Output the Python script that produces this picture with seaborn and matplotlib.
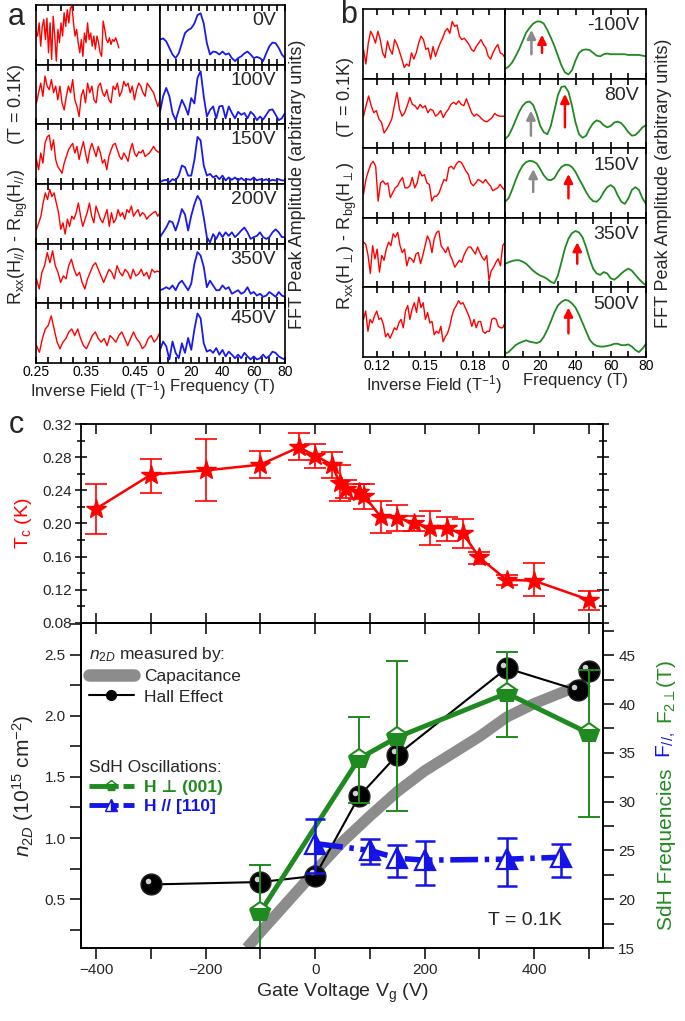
import matplotlib
matplotlib.use("Agg")
import matplotlib.pyplot as plt
import numpy as np
import seaborn as sns
from matplotlib.lines import Line2D
from matplotlib.ticker import MultipleLocator, FixedLocator
from matplotlib.transforms import ScaledTranslation

# ---------------- panel a: H parallel (trace heights in % of each row box) ----------------
A_GATES = ["0V", "100V", "150V", "200V", "350V", "450V"]
A_INV_RANGE = [(0.25, 0.417), (0.251, 0.5), (0.251, 0.5), (0.251, 0.5), (0.251, 0.5), (0.251, 0.5)]
A_TR_0 = [56, 48, 70, 31, 64, 76, 42, 78, 20, 70, 9, 81, 48, 6, 59, 37, 70, 48, 87, 64, 92, 70, 95, 98, 70,
          48, 59, 37, 20, 42, 14, 53, 37, 70, 42, 53, 31, 48, 26, 48, 37, 20, 14, 73, 59, 42, 37, 45, 34, 42,
          39, 45, 37, 28]
A_TR_1 = [36, 53, 69, 47, 81, 64, 58, 75, 53, 64, 41, 64, 36, 24, 47, 64, 53, 75, 41, 30, 13, 47, 58, 36, 69,
          53, 64, 41, 36, 64, 69, 53, 47, 58, 41, 36, 64, 58, 69, 47, 55, 72, 64, 69, 53, 64, 41, 58, 69, 64,
          53, 47, 69, 64, 58, 53, 41, 30, 41]
A_TR_2 = [41, 24, 52, 35, 68, 79, 82, 57, 74, 41, 29, 24, 18, 35, 46, 57, 63, 68, 52, 63, 41, 57, 71, 52, 35,
          57, 68, 57, 46, 63, 52, 35, 41, 24, 46, 57, 66, 68, 57, 46, 41, 52, 46, 38, 57, 68, 52, 46, 54, 52,
          57, 46, 49, 52, 57, 63, 57, 54, 52]
A_TR_3 = [24, 35, 46, 68, 85, 74, 91, 79, 85, 68, 52, 24, 35, 16, 41, 29, 46, 41, 52, 68, 46, 29, 41, 52, 68,
          46, 35, 63, 52, 41, 35, 46, 57, 29, 52, 35, 41, 57, 46, 52, 41, 57, 52, 63, 46, 52, 57, 46, 52, 49,
          41, 46, 49, 52, 54, 46, 52]
A_TR_4 = [41, 24, 52, 63, 85, 68, 88, 63, 52, 35, 46, 41, 63, 74, 57, 46, 52, 35, 24, 41, 52, 63, 68, 57, 46,
          35, 46, 57, 52, 41, 63, 52, 46, 57, 52, 41, 57, 46, 49, 57, 46, 52, 41, 57, 52, 54, 52]
A_TR_5 = [29, 18, 41, 57, 63, 79, 57, 35, 24, 35, 41, 52, 57, 46, 57, 41, 29, 24, 35, 46, 52, 41, 35, 41, 29,
          46, 41, 35, 46, 52, 41, 29, 41, 52, 41, 35, 24, 29, 41, 46, 35, 41, 52]
A_TRACES = [A_TR_0, A_TR_1, A_TR_2, A_TR_3, A_TR_4, A_TR_5]

FREQ = list(range(0, 81, 2))
A_FFT_0 = [42, 44, 39, 28, 17, 11, 19, 36, 53, 58, 61, 69, 83, 86, 69, 36, 17, 22, 21, 17, 22, 17, 19, 11, 6,
           11, 14, 19, 22, 17, 11, 13, 11, 6, 19, 31, 37, 36, 28, 17, 11]
A_FFT_1 = [21, 47, 61, 47, 19, 7, 24, 41, 30, 16, 44, 35, 78, 89, 47, 13, 24, 30, 10, 30, 31, 10, 30, 19, 10,
           21, 16, 19, 10, 21, 16, 7, 13, 8, 16, 24, 25, 16, 7, 10, 19]
A_FFT_2 = [3, 6, 7, 3, 8, 6, 14, 31, 28, 14, 14, 40, 79, 73, 31, 14, 17, 11, 14, 8, 14, 6, 11, 7, 11,
           6, 10, 6, 8, 7, 11, 6, 8, 6, 8, 5, 7, 6, 8, 6, 6]
A_FFT_3 = [11, 19, 27, 38, 36, 22, 38, 58, 49, 22, 47, 66, 80, 72, 44, 11, 2, 16, 8, 19, 11, 19, 13, 19, 11,
           16, 22, 27, 19, 8, 11, 13, 19, 11, 8, 11, 19, 24, 19, 11, 11]
A_FFT_4 = [22, 24, 27, 24, 30, 22, 33, 38, 30, 22, 33, 66, 86, 80, 61, 27, 38, 30, 22, 22, 30, 24, 27, 16, 19,
           22, 16, 19, 27, 16, 19, 13, 16, 11, 13, 19, 15, 11, 19, 13, 11]
A_FFT_5 = [22, 36, 28, 6, 36, 17, 8, 33, 17, 42, 22, 56, 83, 75, 33, 19, 22, 17, 25, 14, 22, 11, 19, 14, 8,
           14, 8, 17, 11, 6, 11, 6, 8, 14, 8, 12, 19, 17, 11, 8, 6]
A_FFTS = [A_FFT_0, A_FFT_1, A_FFT_2, A_FFT_3, A_FFT_4, A_FFT_5]

# ---------------- panel b: H perpendicular ----------------
B_GATES = ["-100V", "80V", "150V", "350V", "500V"]
B_INV_RANGE = (0.1118, 0.2)
B_TR_0 = [42, 21, 51, 68, 61, 51, 68, 56, 37, 30, 54, 42, 35, 56, 49, 39, 28, 16, 21, 18, 37, 28, 37, 51, 61,
          56, 42, 44, 28, 46, 32, 42, 51, 58, 68, 72, 65, 82, 75, 77, 61, 56, 58, 54, 49, 42, 39, 46, 51, 56,
          49, 44, 32, 28, 37, 44, 49, 37, 35, 30]
B_TR_1 = [46, 61, 75, 61, 51, 54, 42, 37, 22, 27, 34, 42, 61, 80, 56, 46, 51, 61, 73, 63, 61, 56, 63, 58, 61,
          51, 56, 54, 46, 49, 54, 44, 51, 56, 63, 66, 63, 68, 63, 61, 71, 61, 51, 46, 49, 46, 42, 39, 38, 41,
          44, 50, 47, 46, 46, 46]
B_TR_2 = [34, 55, 67, 77, 81, 74, 24, 50, 53, 48, 50, 29, 36, 43, 46, 53, 58, 43, 43, 46, 58, 43, 50, 67, 60,
          62, 50, 48, 24, 31, 31, 36, 46, 55, 53, 72, 74, 70, 77, 81, 80, 74, 67, 62, 50, 46, 50, 55, 53, 50,
          55, 50, 46, 39, 41, 43, 48, 43, 39]
B_TR_3 = [65, 62, 46, 20, 60, 41, 55, 22, 46, 39, 55, 65, 60, 77, 72, 79, 60, 50, 55, 31, 43, 41, 36, 48, 50,
          34, 46, 60, 74, 67, 50, 70, 79, 81, 60, 55, 50, 58, 46, 39, 29, 34, 39, 36, 46, 53, 58, 58, 53, 48,
          58, 50, 43, 39, 46, 10, 24, 29, 36, 41, 31, 60, 65]
B_TR_4 = [54, 66, 37, 54, 49, 59, 66, 54, 56, 47, 29, 34, 27, 34, 42, 39, 49, 54, 42, 66, 74, 54, 69, 78, 64,
          86, 71, 78, 54, 64, 49, 51, 32, 37, 34, 44, 22, 29, 34, 44, 59, 69, 74, 81, 76, 78, 71, 64, 56, 44,
          54, 42, 51, 51, 37, 34, 37, 37, 54, 56, 54, 44, 42, 42, 49]
B_TRACES = [B_TR_0, B_TR_1, B_TR_2, B_TR_3, B_TR_4]

B_FFT_0 = [14, 17, 23, 32, 42, 54, 66, 73, 79, 82, 82, 79, 70, 59, 47, 33, 19, 9, 6, 12, 26, 37, 41, 42, 41,
           37, 33, 32, 35, 36, 35, 35, 35, 35, 35, 34, 34, 34, 34, 33, 32]
B_FFT_1 = [13, 18, 28, 40, 52, 61, 66, 67, 62, 49, 32, 23, 20, 32, 54, 76, 88, 89, 81, 61, 37, 20, 15, 18, 28,
           36, 40, 38, 33, 30, 32, 37, 38, 36, 30, 23, 18, 19, 24, 30, 33]
B_FFT_2 = [23, 28, 40, 54, 66, 75, 80, 82, 81, 78, 70, 61, 55, 54, 57, 66, 73, 76, 76, 73, 66, 56, 47, 37, 29,
           24, 23, 28, 37, 44, 47, 43, 32, 23, 20, 28, 40, 44, 40, 28, 20]
B_FFT_3 = [34, 36, 38, 39, 39, 37, 34, 29, 24, 20, 17, 15, 12, 8, 6, 17, 36, 56, 70, 78, 81, 79, 72, 58, 41,
           27, 20, 18, 22, 20, 13, 11, 15, 20, 24, 27, 24, 18, 12, 7, 3]
B_FFT_4 = [5, 7, 12, 17, 20, 22, 24, 22, 21, 20, 22, 29, 39, 51, 64, 74, 79, 82, 81, 77, 71, 61, 49, 37, 25,
           19, 16, 15, 15, 16, 17, 19, 19, 17, 17, 18, 15, 10, 7, 12, 19]
B_FFTS = [B_FFT_0, B_FFT_1, B_FFT_2, B_FFT_3, B_FFT_4]

# arrows marking the two frequencies in panel b
ARROW_ROW = [0, 0, 1, 1, 2, 2, 3, 4]
ARROW_FREQ = [15, 21, 14.7, 34, 16, 36, 41, 36]
ARROW_TAIL = [35, 37, 18, 30, 37, 28, 34, 34]
ARROW_HEAD = [70, 63, 54, 78, 70, 63, 65, 71]
ARROW_KIND = ["gray", "red", "gray", "red", "gray", "red", "red", "red"]

# ---------------- panel c ----------------
TC_V = [-400, -300, -200, -100, -30, 0, 30, 45, 56, 80, 90, 120, 150, 180, 210, 240, 270, 300, 350, 400, 500]
TC = [0.218, 0.259, 0.264, 0.271, 0.292, 0.282, 0.271, 0.249, 0.242, 0.238, 0.233, 0.208, 0.207, 0.201,
      0.195, 0.194, 0.188, 0.159, 0.132, 0.131, 0.108]
TC_HI = [0.248, 0.278, 0.302, 0.288, 0.309, 0.296, 0.286, 0.271, 0.252, 0.248, 0.248, 0.227, 0.222, 0.209,
         0.215, 0.208, 0.205, 0.166, 0.138, 0.152, 0.119]
TC_LO = [0.187, 0.237, 0.227, 0.255, 0.276, 0.267, 0.255, 0.227, 0.231, 0.229, 0.218, 0.188, 0.191, 0.191,
         0.174, 0.179, 0.171, 0.151, 0.126, 0.112, 0.096]

CAP_V = [-125, -100, -50, 0, 50, 100, 150, 200, 250, 300, 350, 400, 450, 500]
CAP_N = [0.10, 0.23, 0.48, 0.73, 0.97, 1.18, 1.38, 1.55, 1.69, 1.83, 1.99, 2.10, 2.19, 2.28]

HALL_V = [-300, -100, 0, 80, 150, 350, 480, 500]
HALL_N = [0.62, 0.64, 0.69, 1.34, 1.68, 2.39, 2.21, 2.37]

PERP_V = [-100, 80, 150, 350, 500]
PERP_F = [18.7, 34.4, 36.6, 41.1, 37.0]
PERP_HI = [23.5, 38.7, 44.4, 45.3, 43.5]
PERP_LO = [12.0, 29.9, 29.0, 36.6, 28.4]

PAR_V = [0, 100, 150, 200, 350, 450]
PAR_F = [25.7, 25.0, 24.2, 24.0, 24.1, 24.3]
PAR_HI = [28.2, 26.2, 25.6, 26.0, 26.3, 25.7]
PAR_LO = [22.7, 23.6, 22.3, 21.5, 21.4, 22.3]

RED = "#ff0000"
BLUE_FFT = "#1a1aee"
GREEN = "#1f8a1f"
BLUE = "#1414e6"
GRAY = "#8c8c8c"

sns.set_theme(style="ticks")
plt.rcParams["font.family"] = ["Liberation Sans", "DejaVu Sans"]
plt.rcParams["mathtext.fontset"] = "custom"
plt.rcParams["mathtext.rm"] = "Liberation Sans"
plt.rcParams["mathtext.it"] = "Liberation Sans:italic"
plt.rcParams["mathtext.bf"] = "Liberation Sans:bold"
plt.rcParams["axes.linewidth"] = 1.3
plt.rcParams["axes.edgecolor"] = "black"

W, H = 685, 1021
fig = plt.figure(figsize=(W / 100, H / 100), dpi=100)


def rect(x0, y0, x1, y1):
    # pixel box (top-left origin) -> figure fraction rect
    return [x0 / W, 1 - y1 / H, (x1 - x0) / W, (y1 - y0) / H]


def stack_rows(x0, x1, y0, y1, n):
    h = (y1 - y0) / n
    return [fig.add_axes(rect(x0, y0 + i * h, x1, y0 + (i + 1) * h)) for i in range(n)]


def style_row(ax, last):
    ax.set_ylim(0, 100)
    ax.set_yticks([])
    ax.tick_params(axis="x", which="both", direction="in", top=True, bottom=True,
                   length=4.5, width=1.2, labelbottom=last, labelsize=10, pad=1.5, colors="black")
    for s in ax.spines.values():
        s.set_color("black")
        s.set_linewidth(1.2)


# ---- panel a ----
a_left = stack_rows(36, 160, 5, 363, 6)
a_right = stack_rows(160, 285, 5, 363, 6)
for i, ax in enumerate(a_left):
    lo, hi = A_INV_RANGE[i]
    xs = np.linspace(lo, hi, len(A_TRACES[i]))
    sns.lineplot(x=xs, y=A_TRACES[i], ax=ax, color=RED, linewidth=1.0, sort=False, estimator=None)
    ax.set_xlim(0.25, 0.5)
    ax.xaxis.set_major_locator(FixedLocator([0.25, 0.35, 0.45]))
    ax.xaxis.set_minor_locator(MultipleLocator(0.025))
    style_row(ax, i == 5)
for i, ax in enumerate(a_right):
    sns.lineplot(x=FREQ, y=A_FFTS[i], ax=ax, color=BLUE_FFT, linewidth=1.3, sort=False, estimator=None)
    ax.set_xlim(0, 80)
    ax.xaxis.set_major_locator(MultipleLocator(20))
    ax.xaxis.set_minor_locator(MultipleLocator(5))
    style_row(ax, i == 5)
    ax.text(0.93, 0.88, A_GATES[i], transform=ax.transAxes, ha="right", va="top", fontsize=14)
a_left[-1].set_xlabel("Inverse Field (T$^{-1}$)", fontsize=12, labelpad=0)
a_right[-1].set_xlabel("Frequency (T)", fontsize=12, labelpad=0)
fig.text(18 / W, 1 - 184 / H, "R$_\\mathrm{xx}$(H$_{//}$) - R$_\\mathrm{bg}$(H$_{//}$)     (T = 0.1K)",
         rotation=90, ha="center", va="center", fontsize=13)
fig.text(297 / W, 1 - 184 / H, "FFT Peak Amplitude (arbitrary units)",
         rotation=90, ha="center", va="center", fontsize=13)
fig.text(8 / W, 1 - 25 / H, "a", fontsize=22, ha="left", va="baseline")

# ---- panel b ----
b_left = stack_rows(363, 505, 9, 357, 5)
b_right = stack_rows(505, 646, 9, 357, 5)
for i, ax in enumerate(b_left):
    xs = np.linspace(B_INV_RANGE[0], B_INV_RANGE[1], len(B_TRACES[i]))
    sns.lineplot(x=xs, y=B_TRACES[i], ax=ax, color=RED, linewidth=1.0, sort=False, estimator=None)
    ax.set_xlim(0.1115, 0.2)
    ax.xaxis.set_major_locator(FixedLocator([0.12, 0.15, 0.18]))
    ax.xaxis.set_minor_locator(MultipleLocator(0.01))
    style_row(ax, i == 4)
for i, ax in enumerate(b_right):
    sns.lineplot(x=FREQ, y=B_FFTS[i], ax=ax, color=GREEN, linewidth=1.3, sort=False, estimator=None)
    ax.set_xlim(0, 80)
    ax.xaxis.set_major_locator(MultipleLocator(20))
    ax.xaxis.set_minor_locator(MultipleLocator(10))
    style_row(ax, i == 4)
    ax.text(0.95, 0.88, B_GATES[i], transform=ax.transAxes, ha="right", va="top", fontsize=14)
for r, f, t, h, k in zip(ARROW_ROW, ARROW_FREQ, ARROW_TAIL, ARROW_HEAD, ARROW_KIND):
    col = "#8a8a8a" if k == "gray" else RED
    b_right[r].annotate("", xy=(f, h), xytext=(f, t),
                        arrowprops=dict(arrowstyle="-|>", color=col, lw=1.8, mutation_scale=13,
                                        shrinkA=0, shrinkB=0))
b_left[-1].set_xlabel("Inverse Field (T$^{-1}$)", fontsize=12, labelpad=0)
b_right[-1].set_xlabel("Frequency (T)", fontsize=12, labelpad=0)
fig.text(347 / W, 1 - 183 / H, "R$_\\mathrm{xx}$(H$_{\\perp}$) - R$_\\mathrm{bg}$(H$_{\\perp}$)     (T = 0.1K)",
         rotation=90, ha="center", va="center", fontsize=13)
fig.text(664 / W, 1 - 183 / H, "FFT Peak Amplitude (arbitrary units)",
         rotation=90, ha="center", va="center", fontsize=13)
fig.text(340 / W, 1 - 23 / H, "b", fontsize=22, ha="left", va="baseline")

# ---- panel c, top: Tc ----
XL = (-428, 526)
ax_t = fig.add_axes(rect(81, 424, 603, 623))
tc = np.array(TC)
sns.lineplot(x=TC_V, y=TC, ax=ax_t, color=RED, linewidth=1.8, sort=False, estimator=None)
ax_t.errorbar(TC_V, TC, yerr=[tc - np.array(TC_LO), np.array(TC_HI) - tc], fmt="none",
              ecolor=RED, elinewidth=1.2, capsize=8, capthick=1.2)
ax_t.plot(TC_V, TC, linestyle="none", marker="*", ms=15, color=RED, mec=RED)
ax_t.set_xlim(*XL)
ax_t.set_ylim(0.08, 0.32)
ax_t.xaxis.set_major_locator(MultipleLocator(100))
ax_t.yaxis.set_major_locator(MultipleLocator(0.04))
ax_t.yaxis.set_minor_locator(MultipleLocator(0.02))
ax_t.yaxis.set_major_formatter(plt.FormatStrFormatter("%.2f"))
ax_t.tick_params(axis="x", direction="in", top=True, bottom=True, labelbottom=False, length=7, width=1.3)
ax_t.tick_params(axis="y", which="both", direction="inout", right=True, length=9, width=1.3,
                 labelsize=11, pad=2)
ax_t.tick_params(axis="y", which="minor", length=6)
ax_t.set_ylabel("T$_\\mathrm{c}$ (K)", color=RED, fontsize=14, labelpad=6)
fig.text(9 / W, 1 - 433 / H, "c", fontsize=22, ha="left", va="baseline")

# ---- panel c, bottom: carrier density and SdH frequencies ----
ax_b = fig.add_axes(rect(81, 623, 603, 948))
sns.lineplot(x=CAP_V, y=CAP_N, ax=ax_b, color=GRAY, linewidth=8, sort=False, estimator=None,
             solid_capstyle="butt")
sns.lineplot(x=HALL_V, y=HALL_N, ax=ax_b, color="black", linewidth=1.5, sort=False, estimator=None)
ax_b.plot(HALL_V, HALL_N, linestyle="none", marker="o", ms=15, color="black", mec="#222222")
shine = ax_b.transData + ScaledTranslation(-2.5 / 72, 2.5 / 72, fig.dpi_scale_trans)
ax_b.plot(HALL_V, HALL_N, linestyle="none", marker="o", ms=4, color="#d0d0d0", mec="none", transform=shine)
ax_b.set_xlim(*XL)
ax_b.set_ylim(0.1, 2.76)
ax_b.xaxis.set_major_locator(MultipleLocator(200))
ax_b.xaxis.set_minor_locator(MultipleLocator(100))
ax_b.yaxis.set_major_locator(MultipleLocator(0.5))
ax_b.yaxis.set_minor_locator(MultipleLocator(0.25))
ax_b.yaxis.set_major_formatter(plt.FormatStrFormatter("%.1f"))
ax_b.tick_params(axis="both", which="both", direction="out", width=1.3, labelsize=11, pad=3)
ax_b.tick_params(which="major", length=8)
ax_b.tick_params(which="minor", length=8)
top_ax = ax_b.secondary_xaxis("top")
top_ax.xaxis.set_major_locator(MultipleLocator(100))
top_ax.tick_params(direction="in", length=8, width=1.3, labeltop=False)
ax_b.set_xlabel("Gate Voltage V$_\\mathrm{g}$ (V)", fontsize=14, labelpad=3)
ax_b.set_ylabel("$n_{2D}$ (10$^{15}$ cm$^{-2}$)", fontsize=15, labelpad=6)
ax_b.text(0.85, 0.085, "T = 0.1K", transform=ax_b.transAxes, ha="center", va="center", fontsize=14)

ax_r = ax_b.twinx()
ax_r.set_ylim(15, 48.3)
ax_r.yaxis.set_major_locator(MultipleLocator(5))
ax_r.yaxis.set_minor_locator(MultipleLocator(2.5))
ax_r.tick_params(axis="y", which="both", direction="out", length=8, width=1.3, labelsize=11, pad=3)

perp = np.array(PERP_F)
sns.lineplot(x=PERP_V, y=PERP_F, ax=ax_r, color=GREEN, linewidth=3.5, sort=False, estimator=None)
ax_r.errorbar(PERP_V, PERP_F, yerr=[perp - np.array(PERP_LO), np.array(PERP_HI) - perp], fmt="none",
              ecolor=GREEN, elinewidth=1.4, capsize=8, capthick=1.4)
ax_r.plot(PERP_V, PERP_F, linestyle="none", marker="p", ms=15, fillstyle="bottom", color=GREEN,
          markerfacecoloralt="white", mec=GREEN, mew=1.5)

par = np.array(PAR_F)
sns.lineplot(x=PAR_V, y=PAR_F, ax=ax_r, color=BLUE, linewidth=4, sort=False, estimator=None)
ax_r.lines[-1].set_dashes([5, 1.2, 0.8, 1.2])
ax_r.errorbar(PAR_V, PAR_F, yerr=[par - np.array(PAR_LO), np.array(PAR_HI) - par], fmt="none",
              ecolor=BLUE, elinewidth=1.8, capsize=7, capthick=1.8)
ax_r.plot(PAR_V, PAR_F, linestyle="none", marker="^", ms=15, fillstyle="right", color=BLUE,
          markerfacecoloralt="white", mec=BLUE, mew=1.6)

# legends
h_cap = Line2D([], [], color=GRAY, lw=9, solid_capstyle="round")
h_hall = Line2D([], [], color="black", lw=1.5, marker="o", ms=7)
leg1 = ax_r.legend([h_cap, h_hall], ["Capacitance", "Hall Effect"], title="$n_{2D}$ measured by:",
                   loc="upper left", bbox_to_anchor=(-0.005, 0.965), frameon=False, alignment="left",
                   fontsize=12.5, title_fontsize=12.5, handlelength=2.6, labelspacing=0.3,
                   handletextpad=0.6, borderaxespad=0.2)
ax_r.add_artist(leg1)
h_perp = Line2D([], [], color=GREEN, lw=3.5, dashes=[4, 1, 1, 1], marker="p", ms=8,
                fillstyle="bottom", markerfacecoloralt="white", mec=GREEN)
h_par = Line2D([], [], color=BLUE, lw=3.5, dashes=[4, 1, 1, 1], marker="^", ms=8,
               fillstyle="right", markerfacecoloralt="white", mec=BLUE)
leg2 = ax_r.legend([h_perp, h_par], ["H \u22a5 (001)", "H // [110]"], title="SdH Oscillations:",
                   loc="upper left", bbox_to_anchor=(-0.005, 0.61), frameon=False, alignment="left",
                   fontsize=12.5, title_fontsize=12.5, handlelength=2.6, labelspacing=0.25,
                   handletextpad=0.6, borderaxespad=0.2)
for txt, col in zip(leg2.get_texts(), [GREEN, BLUE]):
    txt.set_color(col)
    txt.set_fontweight("bold")

# multi-coloured right axis label, stacked bottom to top
pieces = [("SdH Frequencies ", GREEN), ("F$_{//,}$ ", BLUE), ("F$_{2\\perp}$(T)", GREEN)]
renderer = fig.canvas.get_renderer()
texts = [fig.text(0, 0, s, color=c, rotation=90, ha="center", va="bottom", fontsize=15) for s, c in pieces]
heights = [t.get_window_extent(renderer).height / fig.bbox.height for t in texts]
gap = 4 / H
y = (1 - 795 / H) - (sum(heights) + gap * (len(heights) - 1)) / 2
for t, hgt in zip(texts, heights):
    t.set_position((666 / W, y))
    y += hgt + gap

fig.savefig("out.png", dpi=100)
